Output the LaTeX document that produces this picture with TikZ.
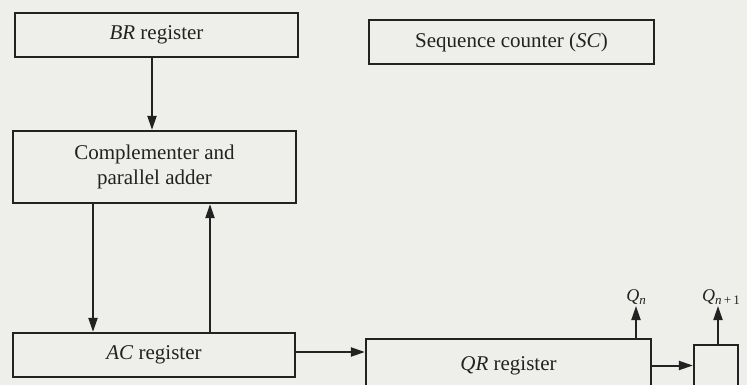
\documentclass[tikz,border=0pt]{standalone}
\usepackage{fontspec}
\setmainfont{Liberation Serif}
\usetikzlibrary{arrows.meta}
\definecolor{paper}{RGB}{238,238,234}
\definecolor{ink}{RGB}{34,34,34}
\newcommand{\Qsub}[1]{{\itshape Q}\raisebox{-0.35ex}{\fontsize{13}{15}\selectfont #1}}
\begin{document}
\begin{tikzpicture}[x=1pt,y=-1pt,
  reg/.style={draw=ink, line width=2.2pt, inner sep=0pt, align=center,
    text=ink, font=\fontsize{21}{25}\selectfont},
  arr/.style={draw=ink, line width=2pt,
    -{Triangle[length=14pt,width=9pt]}},
  qlabel/.style={text=ink, inner sep=1pt, anchor=south,
    font=\fontsize{18}{20}\selectfont}]
  \useasboundingbox (0,0) rectangle (747,385);
  \clip (0,0) rectangle (747,385);
  \fill[paper] (0,0) rectangle (747,385);

  % registers and units
  \node[reg, minimum width=283pt, minimum height=44pt] (br)  at (156.5,35)  {\textit{BR} register};
  \node[reg, minimum width=285pt, minimum height=44pt] (sc)  at (511.5,42)  {Sequence counter (\textit{SC})};
  \node[reg, minimum width=283pt, minimum height=72pt] (add) at (154.5,167) {Complementer and\\parallel adder};
  \node[reg, minimum width=282pt, minimum height=44pt] (ac)  at (154,355)   {\textit{AC} register};
  \node[reg, minimum width=285pt, minimum height=53pt] (qr)  at (508.5,365.5) {\textit{QR} register};
  \node[reg, minimum width=44pt,  minimum height=47pt] (qb)  at (716,368.5)  {};

  % output labels
  \node[qlabel] (qn)  at (636,306) {\Qsub{\textit{n}}};
  \node[qlabel] (qn1) at (721,306) {\Qsub{\textit{n}\,+\,1}};

  % data paths
  \draw[arr] ([xshift=-4.5pt]br.south) -- ([xshift=-4.5pt]br.south |- add.north);
  \draw[arr] ([xshift=-61.5pt]add.south) -- ([xshift=-61.5pt]add.south |- ac.north);
  \draw[arr] ([xshift=56pt]ac.north) -- ([xshift=56pt]ac.north |- add.south);
  \draw[arr] ([yshift=3pt]ac.east) -- ([yshift=3pt]ac.east -| qr.west);
  \draw[arr] (qr.east) -- (qr.east -| qb.west);
  \draw[arr] (qr.north -| qn.south) -- (qn.south);
  \draw[arr] ([xshift=2pt]qb.north) -- ([xshift=2pt]qb.north |- qn1.south);
\end{tikzpicture}
\end{document}
